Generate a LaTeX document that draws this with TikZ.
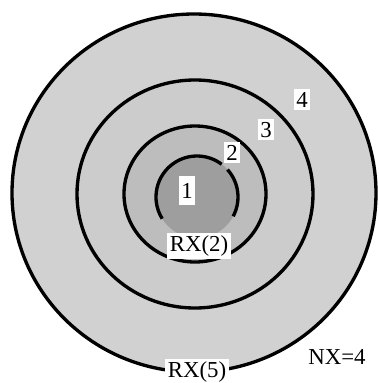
\documentclass[tikz,border=0pt]{standalone}
\usepackage{fontspec}
\setmainfont{Liberation Serif}
\usetikzlibrary{positioning}
\definecolor{zonefour}{gray}{0.82}
\definecolor{zonethree}{gray}{0.80}
\definecolor{zonetwo}{gray}{0.74}
\definecolor{zoneone}{gray}{0.62}

\begin{document}
\begin{tikzpicture}[x=0.02cm, y=-0.02cm,
  font=\fontsize{13}{15}\selectfont,
  ring/.style={draw=black, line width=1.9pt},
  lbl/.style={fill=white, inner sep=1.5pt, anchor=base}]
\useasboundingbox[fill=white] (0,0) rectangle (379,383);
\coordinate (C4) at (194,193);
\coordinate (C) at (195,194);
\coordinate (C1) at (197,197);
% zones, outside in
\filldraw[ring, fill=zonefour] (C4) ellipse [x radius=182, y radius=179];
\filldraw[ring, fill=zonethree] (C) ellipse [x radius=118, y radius=114];
\filldraw[ring, fill=zonetwo] (C) ellipse [x radius=71, y radius=68];
\fill[zoneone] (C1) circle [radius=41];
\draw[ring] (C1) ++(-42:41) arc [start angle=-42, end angle=28, radius=41];
\draw[ring] (C1) ++(148:41) arc [start angle=148, end angle=307, radius=41];
% labels
\node[lbl, minimum height=16pt] (n1) at (187,198) {1};
\node[lbl] (n2) at (232,160) {2};
\node[lbl] (n3) at (266,137) {3};
\node[lbl] (n4) at (302,107) {4};
\node[lbl] (rx2) at (199,251) {RX(2)};
\node[lbl] (rx5) at (197,377) {RX(5)};
\node[anchor=base, inner sep=1pt] (nx) at (337,364) {NX=4};
\end{tikzpicture}
\end{document}
